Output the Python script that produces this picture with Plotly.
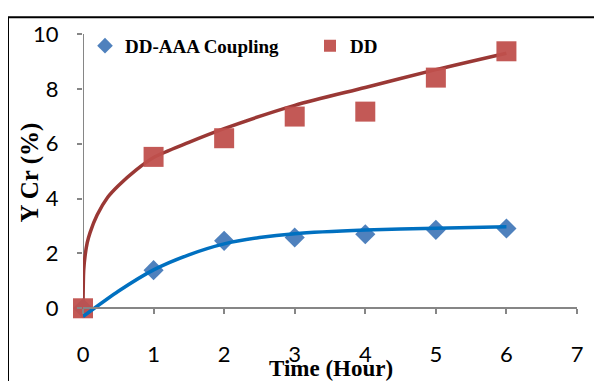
import plotly.graph_objects as go

# Measured data points
time_h = [0, 1, 2, 3, 4, 5, 6]
dd_aaa = [0, 1.39, 2.46, 2.58, 2.70, 2.86, 2.91]
dd = [0, 5.52, 6.20, 6.99, 7.17, 8.41, 9.37]

# Trend curves
dd_fit_t = [0, 0.01, 0.03, 0.06, 0.1, 0.2, 0.35, 0.5, 0.75, 1, 1.5, 2, 3, 4, 5, 6]
dd_fit_y = [0, 1.39, 1.92, 2.39, 2.76, 3.40, 4.05, 4.47, 5.04, 5.5, 6.05, 6.55, 7.4, 8.05, 8.7, 9.3]
aaa_fit_t = [0, 0.5, 1, 1.5, 2, 2.5, 3, 4, 5, 6]
aaa_fit_y = [-0.3, 0.62, 1.4, 1.95, 2.35, 2.58, 2.72, 2.85, 2.92, 2.97]

x_ticks = [0, 1, 2, 3, 4, 5, 6, 7]
y_ticks = [0, 2, 4, 6, 8, 10]

OFF = 8  # page body margin
W, H = 602 - OFF, 381 - OFF
L, T = 83 - OFF, 29 - OFF
R = W - (577 - OFF)
B = H - (322 - OFF)
pw, ph = W - L - R, H - T - B


def px_x(p):
    return (p - OFF - L) / pw


def px_y(p):
    return (H - B - (p - OFF)) / ph


fig = go.Figure()

fig.add_trace(go.Scatter(x=dd_fit_t, y=dd_fit_y, mode="lines",
                         line=dict(color="#9A3835", width=3.5, shape="spline", smoothing=0.8),
                         showlegend=False, hoverinfo="skip"))
fig.add_trace(go.Scatter(x=time_h, y=dd_aaa, mode="markers", name="DD-AAA Coupling",
                         marker=dict(symbol="diamond", size=15.5, color="#4F81BD"),
                         legend="legend", cliponaxis=False))
fig.add_trace(go.Scatter(x=time_h, y=dd, mode="markers", name="DD",
                         marker=dict(symbol="square", size=20, color="#C0504D", opacity=0.95),
                         legend="legend2", cliponaxis=False))
fig.add_trace(go.Scatter(x=aaa_fit_t, y=aaa_fit_y, mode="lines",
                         line=dict(color="#0070C0", width=3.5, shape="spline", smoothing=0.6),
                         showlegend=False, hoverinfo="skip"))

tick_font = dict(family="Lato, Open Sans, sans-serif", size=22, color="#000000")
xtitle_font = dict(family="Liberation Serif, Times New Roman, serif", size=23, color="#000000")
ytitle_font = dict(family="Liberation Serif, Times New Roman, serif", size=25, color="#000000")
legend_font = dict(family="Liberation Serif, Times New Roman, serif", size=19,
                   color="#000000", weight="bold")

fig.update_layout(
    width=W, height=H,
    margin=dict(l=L, r=R, t=T, b=B, pad=0),
    plot_bgcolor="white", paper_bgcolor="white",
    xaxis=dict(range=[0, 7], tickvals=x_ticks, ticks="outside", ticklen=5, tickwidth=2,
               tickcolor="#868686", showline=True, linecolor="#868686", linewidth=2,
               showgrid=False, zeroline=False, anchor="free", position=0.5 / 10.5,
               tickfont=tick_font, ticklabelstandoff=21),
    yaxis=dict(range=[-0.5, 10], tickvals=y_ticks, ticks="outside", ticklen=5, tickwidth=2,
               tickcolor="#868686", showline=False, showgrid=False, zeroline=False,
               tickfont=tick_font, ticklabelstandoff=14),
    legend=dict(x=px_x(85), y=px_y(41), xanchor="left", yanchor="middle",
                font=legend_font, itemsizing="constant", bgcolor="rgba(0,0,0,0)",
                borderwidth=0),
    legend2=dict(x=px_x(310), y=px_y(41), xanchor="left", yanchor="middle",
                 font=legend_font, itemsizing="constant", bgcolor="rgba(0,0,0,0)",
                 borderwidth=0),
    shapes=[
        dict(type="line", xref="x", yref="y", x0=0, x1=0, y0=0, y1=10,
             line=dict(color="#868686", width=2), layer="below"),
        dict(type="rect", xref="paper", yref="paper",
             x0=px_x(8), x1=px_x(640), y0=px_y(420), y1=px_y(12),
             line=dict(color="#000000", width=2)),
    ],
    annotations=[
        dict(text="<b>Time (Hour)</b>", xref="paper", yref="paper",
             x=px_x(331), y=px_y(369), xanchor="center", yanchor="middle",
             showarrow=False, font=xtitle_font),
        dict(text="<b>Y Cr (%)</b>", xref="paper", yref="paper",
             x=px_x(30), y=px_y(170), xanchor="center", yanchor="middle",
             showarrow=False, font=ytitle_font, textangle=-90),
    ],
)

fig.write_html("out.html")
